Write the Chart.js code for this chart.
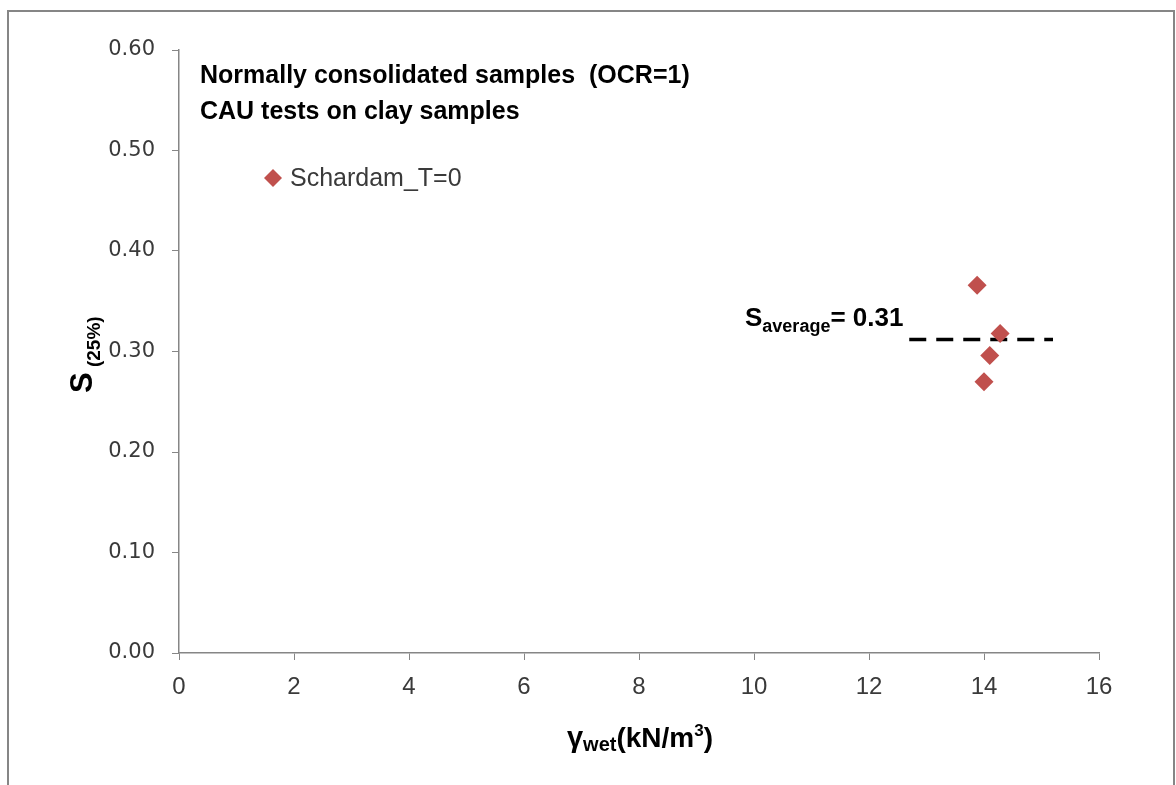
<!DOCTYPE html>
<html>
<head>
<meta charset="utf-8">
<script src="https://cdn.jsdelivr.net/npm/chart.js@4/dist/chart.umd.min.js"></script>
<style>
  body { margin: 0; background: #fff; }
  #wrap { width: 1176px; height: 785px; }
</style>
</head>
<body>
<div id="wrap"><canvas id="myChart" width="1176" height="785"></canvas></div>
<script>
'use strict';

// measured points (gamma wet vs S at 25%)
var seriesName = 'Schardam_T=0';
var gammaWet = [13.88, 14.28, 14.10, 14.00];
var s25 = [0.366, 0.318, 0.296, 0.270];

// average line
var avgX = [12.7, 15.2];
var avgS = [0.312, 0.312];
var avgText = '= 0.31';

var xTicks = [0, 2, 4, 6, 8, 10, 12, 14, 16];
var yTicks = [0, 0.1, 0.2, 0.3, 0.4, 0.5, 0.6];
var titleLines = ['Normally consolidated samples  (OCR=1)', 'CAU tests on clay samples'];

var red = '#C0504D';
var axisGray = '#868686';
var txt = '#3a3a3a';

function toPts(xs, ys) {
   return xs.map(function (x, i) { return { x: x, y: ys[i] }; });
}

// draw a row of text pieces (font, baseline shift) starting at x
function drawRuns(ctx, runs, x, y, align) {
   var total = 0;
   runs.forEach(function (r) { ctx.font = r.font; total += ctx.measureText(r.t).width; });
   var cx = align === 'center' ? x - total / 2 : x;
   ctx.textAlign = 'left';
   ctx.textBaseline = 'alphabetic';
   runs.forEach(function (r) {
      ctx.font = r.font;
      ctx.fillText(r.t, cx, y + (r.dy || 0));
      cx += ctx.measureText(r.t).width;
   });
}

var extras = {
   id: 'extras',
   beforeDraw: function (chart) {
      var ctx = chart.ctx;
      ctx.save();
      ctx.fillStyle = '#fff';
      ctx.fillRect(0, 0, chart.width, chart.height);
      ctx.strokeStyle = axisGray;
      ctx.lineWidth = 2;
      ctx.strokeRect(8, 11, 1166, 790);
      ctx.restore();
   },
   afterDraw: function (chart) {
      var ctx = chart.ctx;
      ctx.save();
      ctx.fillStyle = '#000';

      // chart notes
      ctx.font = 'bold 25px "Liberation Sans"';
      ctx.textAlign = 'left';
      ctx.fillText(titleLines[0], 200, 83);
      ctx.fillText(titleLines[1], 200, 119);

      // legend (first dataset only)
      var ds = chart.data.datasets[0];
      ctx.fillStyle = ds.backgroundColor;
      ctx.beginPath();
      ctx.moveTo(273, 169); ctx.lineTo(282, 178); ctx.lineTo(273, 187); ctx.lineTo(264, 178);
      ctx.closePath(); ctx.fill();
      ctx.fillStyle = txt;
      ctx.font = '25px "Liberation Sans"';
      ctx.textBaseline = 'middle';
      ctx.fillText(ds.label, 290, 179);

      // S average label
      ctx.fillStyle = '#000';
      drawRuns(ctx, [
         { t: 'S', font: 'bold 26px "Liberation Sans"' },
         { t: 'average', font: 'bold 18px "Liberation Sans"', dy: 6 },
         { t: avgText, font: 'bold 26px "Liberation Sans"' }
      ], 745, 326, 'left');

      // x axis title
      drawRuns(ctx, [
         { t: 'γ', font: 'bold 29px "Liberation Sans"' },
         { t: 'wet', font: 'bold 20px "Liberation Sans"', dy: 4 },
         { t: '(kN/m', font: 'bold 28px "Liberation Sans"' },
         { t: '3', font: 'bold 17px "Liberation Sans"', dy: -11 },
         { t: ')', font: 'bold 28px "Liberation Sans"' }
      ], 640, 747, 'center');

      // y axis title
      ctx.translate(92, 393);
      ctx.rotate(-Math.PI / 2);
      drawRuns(ctx, [
         { t: 'S', font: 'bold 31px "Liberation Sans"' },
         { t: ' (25%)', font: 'bold 19px "Liberation Sans"', dy: 8 }
      ], 0, 0, 'left');
      ctx.restore();
   }
};

var ctx = document.getElementById('myChart').getContext('2d');
var myChart = new Chart(ctx, {
   type: 'scatter',
   data: {
      datasets: [{
         label: seriesName,
         data: toPts(gammaWet, s25),
         pointStyle: 'rectRot',
         pointRadius: 9.5,
         pointHoverRadius: 9.5,
         backgroundColor: red,
         borderColor: red,
         borderWidth: 0
      }, {
         label: 'S average',
         data: toPts(avgX, avgS),
         showLine: true,
         borderColor: '#000',
         borderWidth: 3.5,
         borderDash: [17, 10],
         pointRadius: 0
      }]
   },
   options: {
      responsive: false,
      animation: false,
      layout: { padding: { top: 50, right: 77, left: 0, bottom: 0 } },
      plugins: { legend: { display: false }, tooltip: { enabled: false } },
      scales: {
         x: {
            type: 'linear',
            min: xTicks[0],
            max: xTicks[xTicks.length - 1],
            afterFit: function (s) { s.height = 132; },
            afterBuildTicks: function (s) { s.ticks = xTicks.map(function (v) { return { value: v }; }); },
            grid: { drawOnChartArea: false, drawTicks: true, tickLength: 7, color: axisGray },
            border: { display: true, color: axisGray, width: 1.5 },
            ticks: {
               padding: 13,
               color: txt,
               font: { family: 'Liberation Sans', size: 24 },
               callback: function (v) { return v; }
            }
         },
         y: {
            type: 'linear',
            min: yTicks[0],
            max: yTicks[yTicks.length - 1],
            afterFit: function (s) { s.width = 179; },
            afterBuildTicks: function (s) { s.ticks = yTicks.map(function (v) { return { value: v }; }); },
            grid: { drawOnChartArea: false, drawTicks: true, tickLength: 7, color: axisGray },
            border: { display: true, color: axisGray, width: 1.5 },
            ticks: {
               padding: 17,
               color: txt,
               font: { family: 'DejaVu Sans', size: 21 },
               callback: function (v) { return v.toFixed(2); }
            }
         }
      }
   },
   plugins: [extras]
});
</script>
</body>
</html>
